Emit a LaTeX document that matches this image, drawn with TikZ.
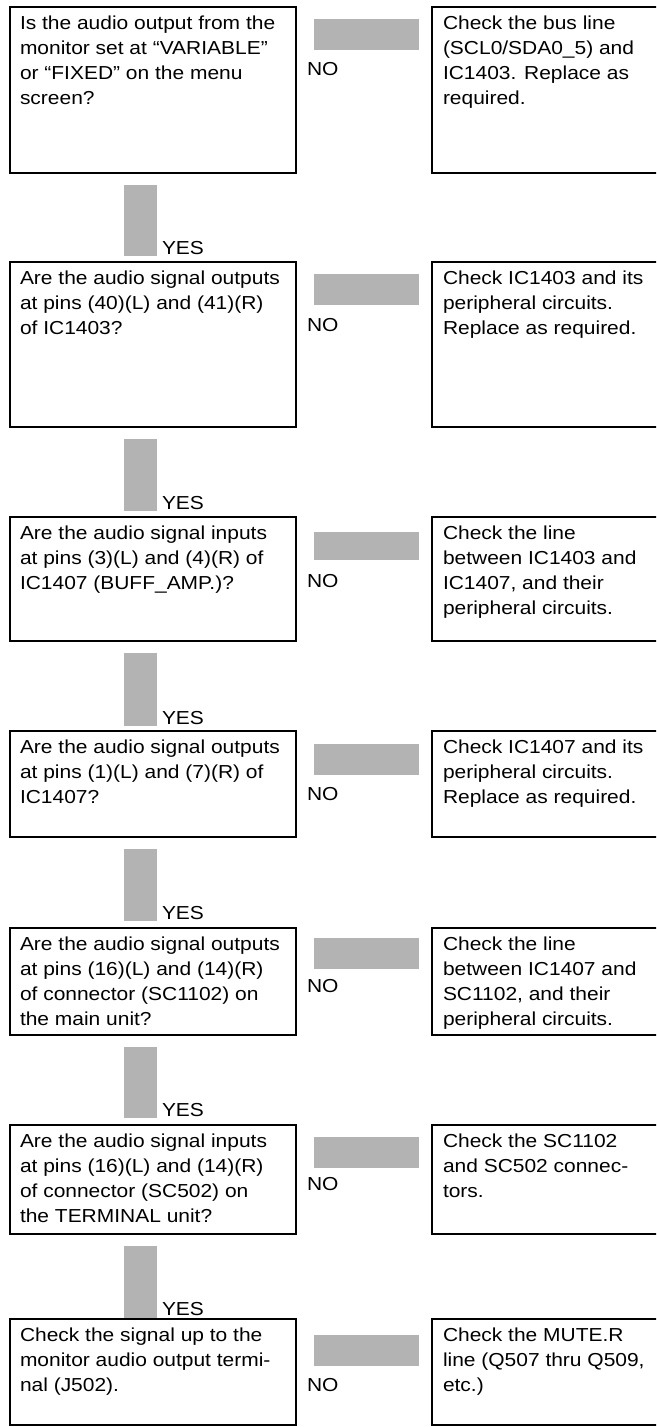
\documentclass[tikz,border=0pt]{standalone}
\usepackage{fontspec}
\setmainfont{Liberation Sans}[FakeStretch=1.115]
\definecolor{barg}{RGB}{179,179,179}
\newcommand\fs{\rule{0pt}{16pt}}
\begin{document}
\begin{tikzpicture}[x=1pt,y=-1pt,
  box/.style={draw=black, line width=2pt, rectangle, outer sep=0pt, inner sep=0pt, anchor=north west},
  qbox/.style={box, minimum width=286pt},
  abox/.style={box, minimum width=226pt},
  txt/.style={anchor=north west, inner sep=0pt, outer sep=0pt, align=left, font=\fontsize{18.8}{25}\selectfont},
  lbl/.style={anchor=base west, inner sep=0pt, outer sep=0pt, font=\fontsize{18.8}{25}\selectfont},
  bar/.style={fill=barg, draw=none, rectangle, inner sep=0pt, outer sep=0pt, anchor=north west},
  nobar/.style={bar, minimum width=105pt, minimum height=31pt},
  yesbar/.style={bar, minimum width=33pt}]
\useasboundingbox (0,0) rectangle (656,1427);
\clip (0,0) rectangle (656,1427);
% ---------- row 1
\node[qbox, minimum height=166pt] (q1) at (10,7) {};
\node[abox, minimum height=166pt] (a1) at (432,7) {};
\node[txt] (q1t) at ([xshift=10pt,yshift=-6pt]q1.north west) {\fs Is the audio output from the\\monitor set at “VARIABLE”\\or “FIXED” on the menu\\screen?};
\node[txt] (a1t) at ([xshift=11pt,yshift=-6pt]a1.north west) {\fs Check the bus line\\(SCL0/SDA0\_5) and\\IC1403. Replace as\\required.};
\node[nobar] (n1) at (314,19) {};
\node[lbl] (no1) at (307,75) {NO};
\node[yesbar, minimum height=71pt] (y1) at (124,185) {};
\node[lbl] (ye1) at (162,254) {YES};
% ---------- row 2
\node[qbox, minimum height=165pt] (q2) at (10,262) {};
\node[abox, minimum height=165pt] (a2) at (432,262) {};
\node[txt] (q2t) at ([xshift=10pt,yshift=-6pt]q2.north west) {\fs Are the audio signal outputs\\at pins (40)(L) and (41)(R)\\of IC1403?};
\node[txt] (a2t) at ([xshift=11pt,yshift=-6pt]a2.north west) {\fs Check IC1403 and its\\peripheral circuits.\\Replace as required.};
\node[nobar] (n2) at (314,274) {};
\node[lbl] (no2) at (307,331) {NO};
\node[yesbar, minimum height=72pt] (y2) at (124,439) {};
\node[lbl] (ye2) at (162,509) {YES};
% ---------- row 3
\node[qbox, minimum height=124pt] (q3) at (10,517) {};
\node[abox, minimum height=124pt] (a3) at (432,517) {};
\node[txt] (q3t) at ([xshift=10pt,yshift=-6pt]q3.north west) {\fs Are the audio signal inputs\\at pins (3)(L) and (4)(R) of\\IC1407 (BUFF\_AMP.)?};
\node[txt] (a3t) at ([xshift=11pt,yshift=-6pt]a3.north west) {\fs Check the line\\between IC1403 and\\IC1407, and their\\peripheral circuits.};
\node[nobar, minimum height=28pt] (n3) at (314,532) {};
\node[lbl] (no3) at (307,587) {NO};
\node[yesbar, minimum height=73pt] (y3) at (124,653) {};
\node[lbl] (ye3) at (162,724) {YES};
% ---------- row 4
\node[qbox, minimum height=106pt] (q4) at (10,731) {};
\node[abox, minimum height=106pt] (a4) at (432,731) {};
\node[txt] (q4t) at ([xshift=10pt,yshift=-6pt]q4.north west) {\fs Are the audio signal outputs\\at pins (1)(L) and (7)(R) of\\IC1407?};
\node[txt] (a4t) at ([xshift=11pt,yshift=-6pt]a4.north west) {\fs Check IC1407 and its\\peripheral circuits.\\Replace as required.};
\node[nobar] (n4) at (314,744) {};
\node[lbl] (no4) at (307,800) {NO};
\node[yesbar, minimum height=72pt] (y4) at (124,849) {};
\node[lbl] (ye4) at (162,919) {YES};
% ---------- row 5
\node[qbox, minimum height=107pt] (q5) at (10,928) {};
\node[abox, minimum height=107pt] (a5) at (432,928) {};
\node[txt] (q5t) at ([xshift=10pt,yshift=-6pt]q5.north west) {\fs Are the audio signal outputs\\at pins (16)(L) and (14)(R)\\of connector (SC1102) on\\the main unit?};
\node[txt] (a5t) at ([xshift=11pt,yshift=-6pt]a5.north west) {\fs Check the line\\between IC1407 and\\SC1102, and their\\peripheral circuits.};
\node[nobar] (n5) at (314,938) {};
\node[lbl] (no5) at (307,992) {NO};
\node[yesbar, minimum height=71pt] (y5) at (124,1047) {};
\node[lbl] (ye5) at (162,1116) {YES};
% ---------- row 6
\node[qbox, minimum height=109pt] (q6) at (10,1125) {};
\node[abox, minimum height=109pt] (a6) at (432,1125) {};
\node[txt] (q6t) at ([xshift=10pt,yshift=-6pt]q6.north west) {\fs Are the audio signal inputs\\at pins (16)(L) and (14)(R)\\of connector (SC502) on\\the TERMINAL unit?};
\node[txt] (a6t) at ([xshift=11pt,yshift=-6pt]a6.north west) {\fs Check the SC1102\\and SC502 connec-\\tors.};
\node[nobar] (n6) at (314,1137) {};
\node[lbl] (no6) at (307,1190) {NO};
\node[yesbar, minimum height=72pt] (y6) at (124,1246) {};
\node[lbl] (ye6) at (162,1315) {YES};
% ---------- row 7
\node[qbox, minimum height=106pt] (q7) at (10,1319) {};
\node[abox, minimum height=106pt] (a7) at (432,1319) {};
\node[txt] (q7t) at ([xshift=10pt,yshift=-6pt]q7.north west) {\fs Check the signal up to the\\monitor audio output termi-\\nal (J502).};
\node[txt] (a7t) at ([xshift=11pt,yshift=-6pt]a7.north west) {\fs Check the MUTE.R\\line (Q507 thru Q509,\\etc.)};
\node[nobar] (n7) at (314,1335) {};
\node[lbl] (no7) at (307,1391) {NO};
\end{tikzpicture}
\end{document}
